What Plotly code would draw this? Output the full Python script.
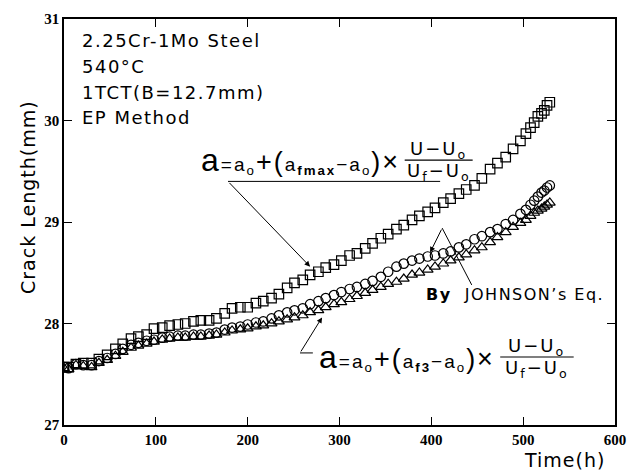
import plotly.graph_objects as go

# ---- data ----
time_h = [0, 5, 13, 21, 30, 38, 47, 56, 64, 73,
          81, 90, 98, 107, 115, 124, 132, 141, 149, 158,
          166, 175, 183, 192, 200, 209, 217, 226, 234, 243,
          251, 260, 268, 277, 285, 294, 302, 311, 319, 328,
          336, 345, 353, 362, 370, 379, 387, 396, 404, 413,
          421, 430, 438, 447, 455, 464, 472, 481, 489, 497,
          503, 508, 512, 516, 520, 523, 526, 529]

a_fmax = [27.57, 27.57, 27.60, 27.61, 27.61, 27.65, 27.69, 27.75, 27.80, 27.85,
          27.87, 27.89, 27.95, 27.96, 27.98, 27.99, 28.00, 28.02, 28.03, 28.03,
          28.05, 28.10, 28.15, 28.16, 28.16, 28.20, 28.22, 28.25, 28.29, 28.35,
          28.40, 28.43, 28.48, 28.51, 28.55, 28.58, 28.62, 28.67, 28.69, 28.74,
          28.79, 28.84, 28.88, 28.93, 28.97, 29.02, 29.06, 29.10, 29.14, 29.19,
          29.23, 29.28, 29.32, 29.36, 29.43, 29.52, 29.58, 29.64, 29.72, 29.80,
          29.87, 29.93, 29.98, 30.04, 30.07, 30.10, 30.15, 30.18]

a_johnson = [27.57, 27.56, 27.60, 27.59, 27.59, 27.63, 27.66, 27.70, 27.75, 27.79,
             27.81, 27.83, 27.84, 27.86, 27.87, 27.88, 27.88, 27.89, 27.89, 27.90,
             27.91, 27.94, 27.96, 27.97, 27.99, 28.01, 28.02, 28.05, 28.08, 28.11,
             28.13, 28.15, 28.19, 28.22, 28.25, 28.28, 28.31, 28.34, 28.36, 28.39,
             28.42, 28.46, 28.51, 28.56, 28.59, 28.62, 28.64, 28.66, 28.67, 28.69,
             28.71, 28.75, 28.78, 28.83, 28.86, 28.90, 28.93, 28.98, 29.02, 29.08,
             29.12, 29.17, 29.21, 29.25, 29.29, 29.31, 29.34, 29.36]

a_f3 = [27.56, 27.55, 27.59, 27.58, 27.57, 27.61, 27.64, 27.68, 27.72, 27.76,
        27.78, 27.80, 27.82, 27.84, 27.85, 27.86, 27.86, 27.87, 27.87, 27.88,
        27.89, 27.91, 27.93, 27.94, 27.95, 27.97, 27.98, 28.00, 28.02, 28.04,
        28.06, 28.08, 28.11, 28.13, 28.16, 28.19, 28.21, 28.24, 28.27, 28.30,
        28.33, 28.36, 28.39, 28.41, 28.44, 28.48, 28.50, 28.53, 28.56, 28.59,
        28.62, 28.65, 28.68, 28.72, 28.75, 28.80, 28.85, 28.90, 28.95, 28.99,
        29.02, 29.06, 29.09, 29.11, 29.13, 29.15, 29.17, 29.19]

x_ticks = [0, 100, 200, 300, 400, 500, 600]
y_ticks = [27, 28, 29, 30, 31]

info_lines = ["2.25Cr-1Mo Steel", "540°C", "1TCT(B=12.7mm)", "EP Method"]

BLACK = "black"
TXT = "DejaVu Sans"

fig = go.Figure()

def add_series(y, symbol, name):
    fig.add_trace(go.Scatter(
        x=time_h, y=y, mode="markers", name=name,
        marker=dict(symbol=symbol, size=9.5, color=BLACK,
                    line=dict(color=BLACK, width=1.2)),
        showlegend=False))

add_series(a_fmax, "square-open", "a_fmax")
add_series(a_johnson, "circle-open", "JOHNSON")
add_series(a_f3, "triangle-up-open", "a_f3")

ann = []
# info block
info_y = [30.79, 30.53, 30.28, 30.03]
for txt, yy in zip(info_lines, info_y):
    ann.append(dict(x=17, y=yy, xref="x", yref="y", xanchor="left", yanchor="middle",
                    text=f'<span style="letter-spacing:1.5px">{txt}</span>',
                    showarrow=False, font=dict(family=TXT, size=18, color=BLACK)))

def formula(x_left, y_mid, sub, x_frac, frac_half):
    main = ('<span style="letter-spacing:2px">'
            '<span style="font-size:32px">a</span>'
            '=a<sub>o</sub>'
            '<span style="font-size:27px">+(</span>'
            f'a<sub><b>{sub}</b></sub>−a<sub>o</sub>'
            '<span style="font-size:27px">)×</span></span>')
    ann.append(dict(x=x_left, y=y_mid, xref="x", yref="y", xanchor="left", yanchor="middle",
                    text=main, showarrow=False,
                    font=dict(family="Liberation Sans", size=19, color=BLACK)))
    ann.append(dict(x=x_frac, y=y_mid + 0.10, xref="x", yref="y", xanchor="center", yanchor="middle",
                    text='<span style="letter-spacing:2px">U−U<sub>o</sub></span>', showarrow=False,
                    font=dict(family=TXT, size=18, color=BLACK)))
    ann.append(dict(x=x_frac, y=y_mid - 0.115, xref="x", yref="y", xanchor="center", yanchor="middle",
                    text='<span style="letter-spacing:2px">U<sub>f</sub>−U<sub>o</sub></span>', showarrow=False,
                    font=dict(family=TXT, size=18, color=BLACK)))
    fig.add_shape(type="line", xref="x", yref="y",
                  x0=x_frac - frac_half, x1=x_frac + frac_half, y0=y_mid, y1=y_mid,
                  line=dict(color=BLACK, width=1.2))

formula(147, 29.61, "fmax", 408, 37)
formula(275, 27.67, "f3", 515, 40)

# leader lines & arrows
fig.add_shape(type="line", xref="x", yref="y", x0=178.6, x1=409.6, y0=29.40, y1=29.40,
              line=dict(color=BLACK, width=1))
fig.add_shape(type="line", xref="x", yref="y", x0=257, x1=271, y0=27.71, y1=27.71,
              line=dict(color=BLACK, width=1))
fig.add_shape(type="line", xref="x", yref="y", x0=444, x1=411.8, y0=28.38, y1=28.94,
              line=dict(color=BLACK, width=1))

def arrow(x0, y0, x1, y1):
    ann.append(dict(x=x1, y=y1, ax=x0, ay=y0, xref="x", yref="y", axref="x", ayref="y",
                    text="", showarrow=True, arrowhead=2, arrowsize=1.1, arrowwidth=1,
                    arrowcolor=BLACK, standoff=0, startstandoff=0))

arrow(178.6, 29.40, 268, 28.56)
arrow(257, 27.71, 281, 28.06)
arrow(411.8, 28.94, 398.7, 28.70)

ann.append(dict(x=392, y=28.29, xref="x", yref="y", xanchor="left", yanchor="middle",
                text='<span style="letter-spacing:1.5px"><b>By</b>  JOHNSON’s Eq.</span>',
                showarrow=False, font=dict(family=TXT, size=16, color=BLACK)))

# axis titles
ann.append(dict(x=0.908, y=-0.086, xref="paper", yref="paper", xanchor="center", yanchor="middle",
                text='<span style="letter-spacing:1px">Time(h)</span>', showarrow=False,
                font=dict(family=TXT, size=19, color=BLACK)))
ann.append(dict(x=-0.065, y=0.562, xref="paper", yref="paper", xanchor="center", yanchor="middle",
                text='<span style="letter-spacing:1px">Crack Length(mm)</span>', showarrow=False,
                textangle=-90, font=dict(family=TXT, size=19, color=BLACK)))

axis_common = dict(showline=True, linewidth=1.6, linecolor=BLACK, mirror="ticks",
                   ticks="inside", ticklen=8, tickwidth=1.2, tickcolor=BLACK,
                   showgrid=False, zeroline=False,
                   tickfont=dict(family="Liberation Sans Narrow", size=15, color=BLACK, weight="bold"))

fig.update_layout(
    width=639, height=472,
    margin=dict(l=64, r=24, t=19, b=47),
    paper_bgcolor="white", plot_bgcolor="white",
    xaxis=dict(range=[0, 600], tickvals=x_ticks, ticktext=[str(v) for v in x_ticks], **axis_common),
    yaxis=dict(range=[27, 31], tickvals=y_ticks, ticktext=[str(v) for v in y_ticks], **axis_common),
    annotations=ann,
    showlegend=False,
)

fig.write_html("out.html")
